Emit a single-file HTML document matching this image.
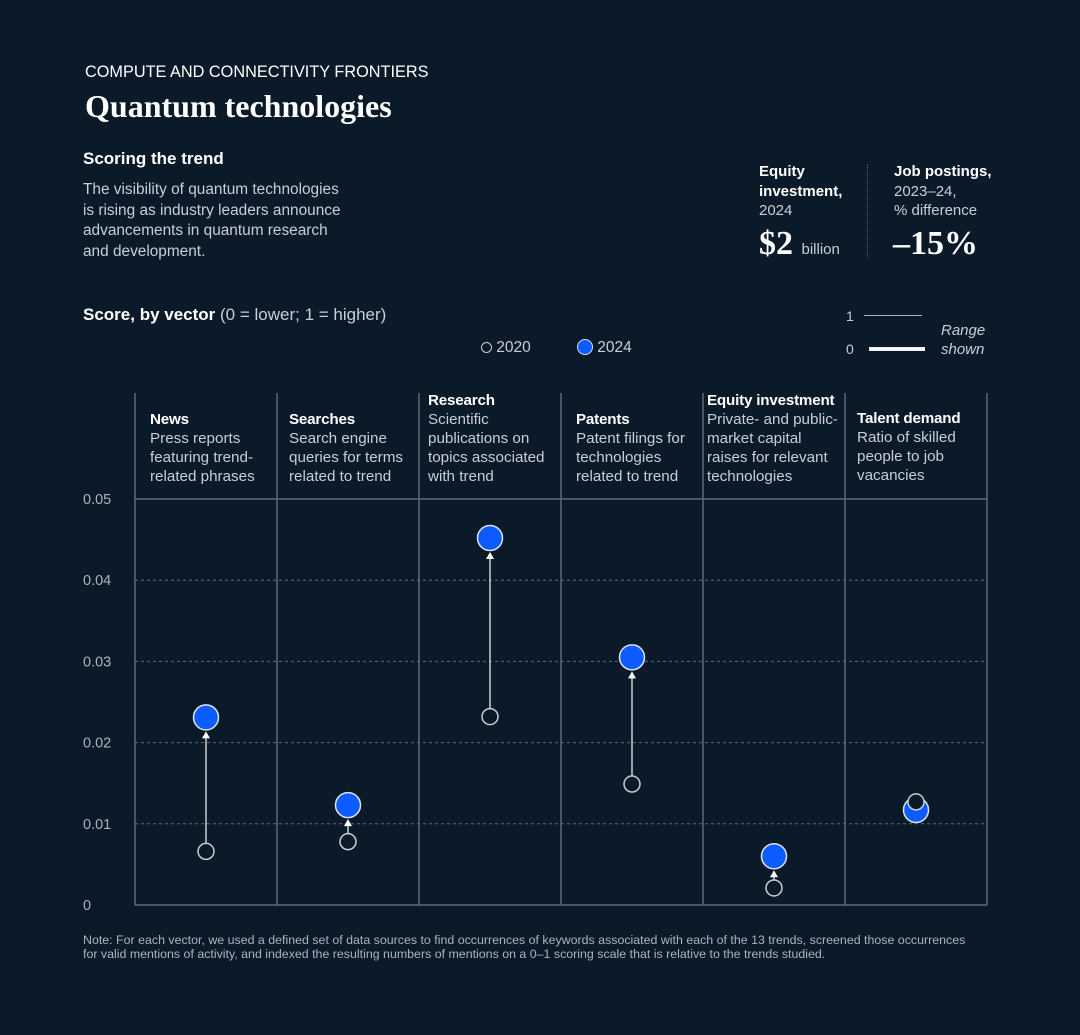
<!DOCTYPE html>
<html><head><meta charset="utf-8"><style>
body{margin:0;background:#0b1a29;width:1080px;height:1035px;overflow:hidden;font-family:"Liberation Sans",sans-serif;color:#fff;position:relative}
.a{position:absolute}
.g{color:#c8ced6}
.hd{position:absolute;bottom:549px;font-size:15.2px;line-height:19px;color:#c8ced6;white-space:nowrap}
.hd b{color:#fff;letter-spacing:-0.2px}
</style></head><body>
<div class="a" style="left:85px;top:63px;font-size:16.3px">COMPUTE AND CONNECTIVITY FRONTIERS</div>
<div class="a" style="left:85px;top:88px;font-family:'Liberation Serif',serif;font-size:32px;font-weight:bold">Quantum technologies</div>
<div class="a" style="left:83px;top:149px;font-size:17px;font-weight:bold">Scoring the trend</div>
<div class="a g" style="left:83px;top:180px;font-size:15.4px;line-height:20.5px;white-space:nowrap">The visibility of quantum technologies<br>is rising as industry leaders announce<br>advancements in quantum research<br>and development.</div>
<div class="a" style="left:759px;top:162px;font-size:15px;line-height:19.5px"><b>Equity<br>investment,</b><br><span class="g">2024</span></div>
<div class="a" style="left:759px;top:225px;font-family:'Liberation Serif',serif;font-size:34px;font-weight:bold">$2 <span style="font-family:'Liberation Sans',sans-serif;font-size:15px;font-weight:normal;color:#c8ced6">billion</span></div>
<div class="a" style="left:867px;top:164px;height:94px;border-left:1px dotted #556"></div>
<div class="a" style="left:894px;top:162px;font-size:15px;line-height:19.5px"><b>Job postings,</b><br><span class="g">2023–24,<br>% difference</span></div>
<div class="a" style="left:893px;top:225px;font-family:'Liberation Serif',serif;font-size:34px;font-weight:bold">–15%</div>
<div class="a" style="left:83px;top:305px;font-size:17px"><b>Score, by vector</b> <span class="g">(0 = lower; 1 = higher)</span></div>
<div class="a g" style="left:481px;top:339px;font-size:15.5px"><span style="display:inline-block;width:9px;height:9px;border:1.5px solid #c8ced6;border-radius:50%;vertical-align:-1px"></span> 2020</div>
<div class="a g" style="left:577px;top:339px;font-size:15.5px"><span style="display:inline-block;width:14px;height:14px;background:#0d5cff;border:1.5px solid #dde;border-radius:50%;vertical-align:-3px"></span> 2024</div>
<div class="a g" style="left:846px;top:300px;font-size:14px;line-height:33px">1<br>0</div>
<div class="a" style="left:864px;top:315px;width:58px;border-top:1px solid #aab"></div>
<div class="a" style="left:869px;top:347px;width:54px;height:2px;border:1px solid #eee;background:#fff"></div>
<div class="a g" style="left:941px;top:321px;font-size:15px;font-style:italic;line-height:19px">Range<br>shown</div>
<svg class="a" style="left:0;top:0" width="1080" height="1035" id="chart"></svg>
<div class="hd" style="left:150px"><b>News</b><br>Press reports<br>featuring trend-<br>related phrases</div>
<div class="hd" style="left:289px"><b>Searches</b><br>Search engine<br>queries for terms<br>related to trend</div>
<div class="hd" style="left:428px"><b>Research</b><br>Scientific<br>publications on<br>topics associated<br>with trend</div>
<div class="hd" style="left:576px"><b>Patents</b><br>Patent filings for<br>technologies<br>related to trend</div>
<div class="hd" style="left:707px"><b>Equity investment</b><br>Private- and public-<br>market capital<br>raises for relevant<br>technologies</div>
<div class="hd" style="left:857px;bottom:550px"><b>Talent demand</b><br>Ratio of skilled<br>people to job<br>vacancies</div>
<div class="a" style="left:83px;top:933px;font-size:12.4px;line-height:14px;color:#aab3bd;white-space:nowrap">Note: For each vector, we used a defined set of data sources to find occurrences of keywords associated with each of the 13 trends, screened those occurrences<br>for valid mentions of activity, and indexed the resulting numbers of mentions on a 0–1 scoring scale that is relative to the trends studied.</div>
<script>
const categories=["News","Searches","Research","Patents","Equity investment","Talent demand"];
const values2020=[0.0066,0.0078,0.0232,0.0149,0.0021,0.0127];
const values2024=[0.0231,0.0123,0.0452,0.0305,0.006,0.0117];
const yTicks=[0,0.01,0.02,0.03,0.04,0.05];
const yTickLabels=["0","0.01","0.02","0.03","0.04","0.05"];
const svg=document.getElementById('chart');
const NS='http://www.w3.org/2000/svg';
const L=135,R=987,T=393,B=905,yMax=0.05,yTop=499;
const y=v=>B-(v/yMax)*(B-yTop);
const cw=(R-L)/categories.length;
const x=i=>L+cw*(i+0.5);
function el(t,a){const e=document.createElementNS(NS,t);for(const k in a)e.setAttribute(k,a[k]);svg.appendChild(e);return e;}
yTicks.forEach((t,i)=>{
 const l=el('line',{x1:L,x2:R,y1:y(t),y2:y(t),stroke:'#5d6b78','stroke-width':(i==0||i==yTicks.length-1)?1.5:1,'stroke-dasharray':(i==0||i==yTicks.length-1)?'':'3 3'});
 
 
 const tx=el('text',{x:83,y:y(t)+5,fill:'#aab3bd','font-size':14.5,'font-family':'Liberation Sans'});
 tx.textContent=yTickLabels[i];
 
 
});
for(let i=0;i<=categories.length;i++){
 const l=el('line',{x1:L+cw*i,x2:L+cw*i,y1:T,y2:B,stroke:'#5d6b78','stroke-width':1.5});
 
 
}
categories.forEach((c,i)=>{
 const y0=y(values2020[i]),y1=y(values2024[i]),cx=x(i);
 if(y1<y0-10){
  const tipY=y1+14;
  if(y0-8>tipY+7){const ln=el('line',{x1:cx,x2:cx,y1:y0-8,y2:tipY+5,stroke:'#c8ced6','stroke-width':1.5});
  }
  const p=el('path',{d:`M${cx-4} ${tipY+7}L${cx+4} ${tipY+7}L${cx} ${tipY}Z`,fill:'#fff'});
  
 }
 const draw2020=()=>{const o=el('circle',{cx,cy:y0,r:8,fill:'#0b1a29',stroke:'#c8ced6','stroke-width':1.5});
  };
 const draw2024=()=>{const f=el('circle',{cx,cy:y1,r:12.5,fill:'#0d5cff',stroke:'#dde3ea','stroke-width':1.5});
  };
 if(values2024[i]>=values2020[i]){draw2020();draw2024();}else{draw2024();draw2020();}
});
</script>
</body></html>
